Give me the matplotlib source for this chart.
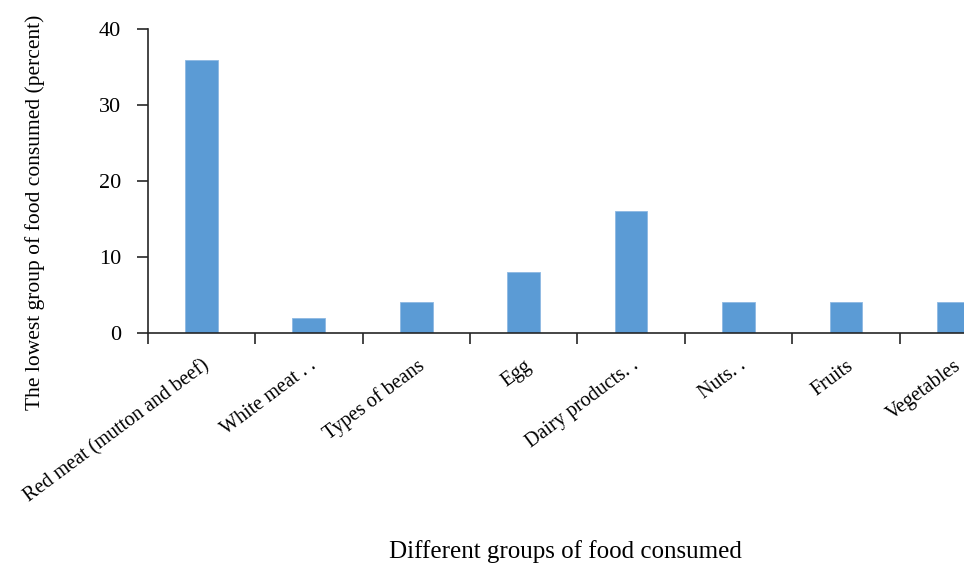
import matplotlib
matplotlib.use("Agg")
import matplotlib.pyplot as plt
import numpy as np

categories = [
    "Red meat (mutton and beef)",
    "White meat . .",
    "Types of beans",
    "Egg",
    "Dairy products. .",
    "Nuts. .",
    "Fruits",
    "Vegetables",
]
percent = [36, 2, 4, 8, 16, 4, 4, 4]
y_ticks = [0, 10, 20, 30, 40]

plt.rcParams["font.family"] = ["Liberation Serif", "DejaVu Serif"]

fig = plt.figure(figsize=(9.64, 5.66), dpi=100)
# plot area runs past the right edge of the figure, so the last bar is cut off
ax = fig.add_axes([0.1532, 0.4122, 0.8914, 0.536])

x = np.arange(len(categories))
ax.bar(x, percent, width=0.304, color="#5B9BD5", edgecolor="#8DB8E2",
       linewidth=0.6, zorder=2)

ax.set_xlim(-0.5, len(categories) - 0.5)
ax.set_ylim(0, 40)
ax.set_yticks(y_ticks)
ax.set_yticklabels([str(v) for v in y_ticks], fontsize=16)

axis_color = "#262626"
for side in ("top", "right"):
    ax.spines[side].set_visible(False)
for side in ("left", "bottom"):
    ax.spines[side].set_color(axis_color)
    ax.spines[side].set_linewidth(1.2)

ax.tick_params(axis="y", direction="out", length=8, width=1.2,
               color=axis_color, pad=11, labelcolor="black")

# category labels at the bar centres, tick marks at the category boundaries
ax.set_xticks(x)
ax.set_xticklabels(categories, fontsize=14.5, rotation=36.7, ha="right",
                   va="top", rotation_mode="anchor")
ax.tick_params(axis="x", which="major", length=0, pad=17)
ax.set_xticks(np.arange(len(categories) + 1) - 0.5, minor=True)
ax.tick_params(axis="x", which="minor", direction="out", length=8,
               width=1.2, color=axis_color)

ax.set_ylabel("The lowest group of food consumed (percent)", fontsize=15.5)
ax.yaxis.set_label_coords(-0.131, 0.398)
ax.yaxis.label.set_va("center")
ax.set_xlabel("Different groups of food consumed", fontsize=18)
ax.xaxis.set_label_coords(0.4856, -0.722)
ax.xaxis.label.set_va("center")

fig.savefig("out.png", dpi=100)
